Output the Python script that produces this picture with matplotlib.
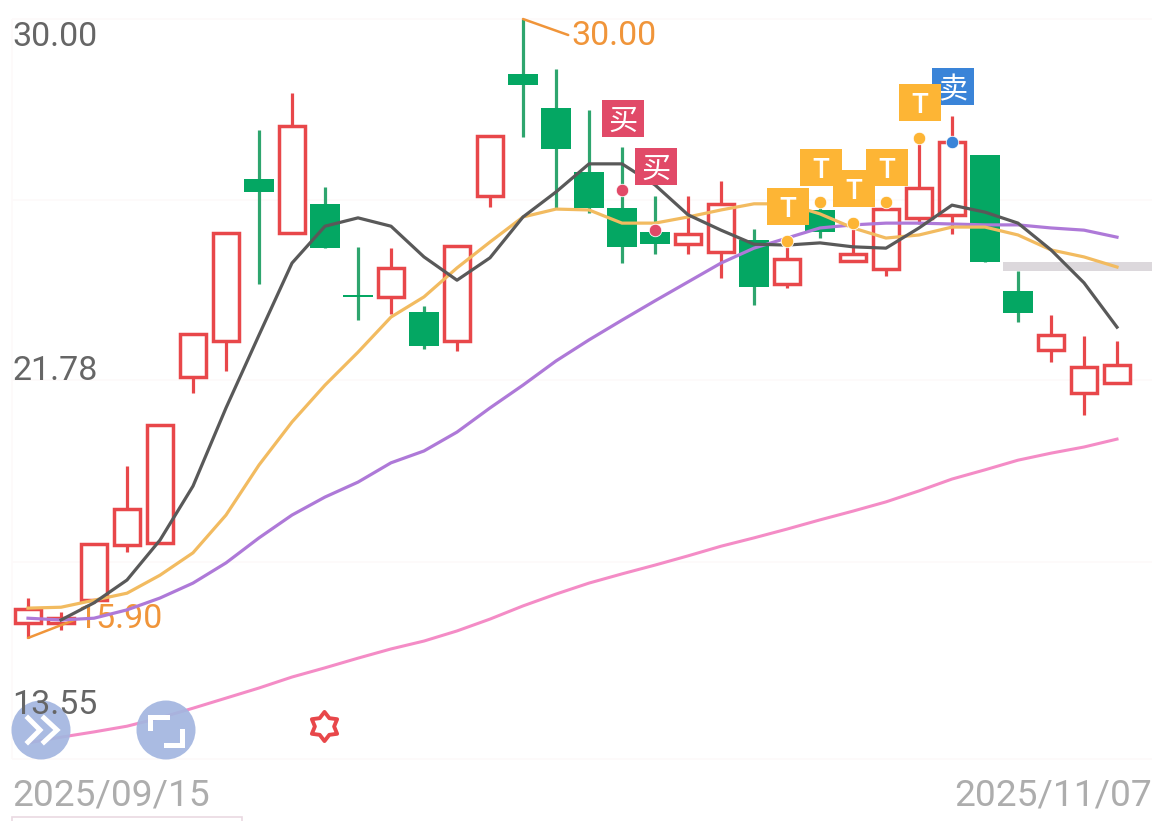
import numpy as np
import matplotlib
matplotlib.use('Agg')
import matplotlib.pyplot as plt
from matplotlib.patches import Rectangle, Circle
from matplotlib.path import Path

# prices
opens = [16.24, 16.24, 16.76, 18.02, 18.06, 21.84, 22.66, 26.36, 25.13, 25.79, 23.71, 23.67,
         23.33, 22.66, 25.97, 28.75, 27.97, 26.51, 25.69, 25.15, 24.87, 24.69, 24.97, 23.96,
         25.65, 24.49, 24.30, 25.47, 25.54, 26.90, 23.80, 22.46, 21.48, 21.71]
closes = [16.56, 16.35, 18.04, 18.84, 20.75, 22.82, 25.13, 26.06, 27.56, 24.78, 23.67, 24.33,
          22.55, 24.83, 27.33, 28.50, 27.04, 25.69, 24.81, 24.87, 25.10, 25.79, 23.89, 24.53,
          25.15, 24.65, 25.67, 26.15, 27.20, 24.46, 23.30, 22.80, 22.07, 22.12]
highs = [16.81, 16.49, 18.04, 19.82, 20.75, 22.82, 25.13, 27.47, 28.31, 26.17, 24.81, 24.78,
         23.46, 24.83, 27.33, 30.00, 28.86, 27.93, 27.08, 25.97, 25.97, 26.31, 25.22, 25.06,
         25.92, 25.38, 25.88, 27.36, 27.79, 26.90, 24.26, 23.26, 22.78, 22.66]
lows = [15.90, 16.08, 16.70, 17.86, 18.06, 21.48, 21.98, 23.96, 25.13, 24.78, 23.14, 23.28,
        22.48, 22.44, 25.72, 27.31, 25.67, 25.58, 24.44, 24.65, 24.65, 24.10, 23.48, 23.87,
        25.01, 24.49, 24.15, 25.33, 25.10, 24.46, 23.10, 22.19, 20.98, 21.69]

ma_black = [16.31, 16.70, 17.22, 18.13, 19.36, 21.14, 22.80, 24.44, 25.28, 25.47, 25.28, 24.58,
            24.05, 24.56, 25.49, 26.06, 26.70, 26.70, 26.22, 25.54, 25.19, 24.87, 24.85, 24.90,
            24.81, 24.78, 25.24, 25.76, 25.60, 25.35, 24.74, 23.99, 22.98]
ma_yellow = [16.58, 16.60, 16.76, 16.92, 17.33, 17.84, 18.70, 19.84, 20.82, 21.66, 22.41, 23.21,
             23.67, 24.33, 24.92, 25.49, 25.67, 25.65, 25.35, 25.35, 25.49, 25.65, 25.79, 25.79,
             25.56, 25.24, 25.01, 25.08, 25.26, 25.26, 25.08, 24.74, 24.58, 24.35]
ma_purple = [16.35, 16.31, 16.35, 16.54, 16.81, 17.15, 17.61, 18.18, 18.70, 19.11, 19.45, 19.89,
             20.16, 20.59, 21.14, 21.66, 22.21, 22.69, 23.14, 23.58, 24.01, 24.44, 24.78, 25.01,
             25.24, 25.31, 25.35, 25.35, 25.33, 25.31, 25.31, 25.24, 25.19, 25.03]
ma_pink = [13.51, 13.64, 13.76, 13.89, 14.08, 14.30, 14.53, 14.76, 15.01, 15.22, 15.44, 15.65,
           15.83, 16.06, 16.33, 16.63, 16.90, 17.15, 17.36, 17.56, 17.77, 17.99, 18.18, 18.38,
           18.59, 18.79, 19.00, 19.25, 19.52, 19.73, 19.95, 20.11, 20.25, 20.43]

# signal: candle index, dot price, label, gap from dot to label box in px
sig_idx = [18, 19, 23, 24, 25, 26, 27, 28]
sig_price = [26.10, 25.19, 24.94, 25.83, 25.35, 25.83, 27.29, 27.20]
sig_label = ['买', '买', 'T', 'T', 'T', 'T', 'T', '卖']
sig_gap = [72, 64, 35, 35, 35, 35, 35, 55]

grid_prices = [30.00, 25.88, 21.78, 17.63, 13.14]
axis_labels = ['30.00', '21.78', '13.55']
date_labels = ['2025/09/15', '2025/11/07']

RED = '#e8474a'
GREEN = '#04a763'
GREEN_WICK = '#2ea56e'
ORANGE = '#f0953a'
sig_color = {'买': '#e14a68', 'T': '#fdb535', '卖': '#3a84d8'}

W, H = 1168, 821
fig = plt.figure(figsize=(W / 100, H / 100), dpi=100)
ax = fig.add_axes([0, 0, 1, 1])
ax.set_xlim(-28 / 33, (W - 28) / 33)
ax.set_ylim(30 - (H - 19) * 0.02278, 30 + 19 * 0.02278)
ax.axis('off')

# overlay in screen pixels for the app chrome
ui = fig.add_axes([0, 0, 1, 1])
ui.set_xlim(0, W)
ui.set_ylim(H, 0)
ui.axis('off')
ui.patch.set_alpha(0)

x0 = (12 - 28) / 33
x1 = (1152 - 28) / 33
ax.hlines(grid_prices, x0, x1, color='#fdf9fa', lw=1.2, zorder=1)
ax.vlines(x0, grid_prices[-1], grid_prices[0], color='#fdf9fa', lw=1.2, zorder=1)

# latest price band
ax.add_patch(Rectangle(((1003 - 28) / 33, 24.26), x1 - (1003 - 28) / 33, 0.20,
                       color='#dcd8dc', lw=0, zorder=2))

idx = np.arange(len(opens))
for i in idx:
    up = closes[i] >= opens[i]
    ax.vlines(i, lows[i], highs[i], color=RED if up else GREEN_WICK, lw=2.3, zorder=3)
    lo, hi = min(opens[i], closes[i]), max(opens[i], closes[i])
    if up:
        ax.add_patch(Rectangle((i - 0.38, lo), 0.76, hi - lo, facecolor='white',
                               edgecolor=RED, lw=2.5, zorder=4))
    else:
        ax.add_patch(Rectangle((i - 0.445, lo), 0.89, hi - lo, facecolor=GREEN,
                               edgecolor='none', zorder=4))

ax.plot(idx, ma_pink, color='#f48cc6', lw=2.2, zorder=5)
ax.plot(idx, ma_purple, color='#ae79d8', lw=2.3, zorder=5)
ax.plot(idx, ma_yellow, color='#f2bb60', lw=2.3, zorder=6)
ax.plot(idx[1:], ma_black, color='#595959', lw=2.3, zorder=7)

# high / low callouts
ax.annotate('30.00', xy=(15, 30.00), xytext=(48, -17), textcoords='offset pixels',
            color=ORANGE, fontsize=24.5, family='Roboto', va='center', ha='left', zorder=8,
            arrowprops=dict(arrowstyle='-', color=ORANGE, lw=1.8, shrinkA=0, shrinkB=0, relpos=(0, 0.5)))
ax.annotate('15.90', xy=(0, 15.90), xytext=(49, 19), textcoords='offset pixels',
            color=ORANGE, fontsize=24.5, family='Roboto', va='center', ha='left', zorder=4.5,
            arrowprops=dict(arrowstyle='-', color=ORANGE, lw=1.8, shrinkA=0, shrinkB=0, relpos=(0, 0.5)))

# signal dots and label boxes
for i, p, lab, gap in zip(sig_idx, sig_price, sig_label, sig_gap):
    c = sig_color[lab]
    ax.plot(i, p, 'o', color=c, ms=9, mec='white', mew=0.6, zorder=9)
    sx, sy = ax.transData.transform((i, p))
    sy = H - sy - gap
    z = 4 if lab == 'T' else 3
    ui.add_patch(Rectangle((sx - 20.5, sy - 18.5), 42, 37, color=c, lw=0, zorder=z))
    if lab == 'T':
        ui.text(sx + 0.5, sy, lab, color='white', fontsize=20, family='Roboto', weight='medium',
                ha='center', va='center_baseline', zorder=z + 0.5)
    else:
        ui.text(sx + 0.5, sy, lab, color='white', fontsize=21, family='Noto Sans CJK SC',
                weight='medium', ha='center', va='center_baseline', zorder=z + 0.5)

# axis labels
for lab, y in zip(axis_labels, [34, 368, 701]):
    ui.text(12, y, lab, color='#666666', fontsize=24.5, family='Roboto', ha='left',
            va='center_baseline', zorder=2.5)
ui.text(12, 791, date_labels[0], color='#adadad', fontsize=26.7, family='Roboto', ha='left',
        va='center_baseline')
ui.text(1152, 791, date_labels[1], color='#adadad', fontsize=26.7, family='Roboto', ha='right',
        va='center_baseline')

# round buttons
for cx in [41, 166]:
    ui.add_patch(Circle((cx, 730), 29.5, color='#a3b6e0', alpha=0.92, lw=0, zorder=2))
for xs in [[28, 40, 28], [44, 57, 44]]:
    ui.plot(xs, [718, 730, 742], color='white', lw=3.6, solid_joinstyle='miter', zorder=3)
ui.plot([150, 150, 167], [728, 717, 717], color='white', lw=3.6, solid_joinstyle='miter', zorder=3)
ui.plot([166, 182, 182], [745, 745, 731], color='white', lw=3.6, solid_joinstyle='miter', zorder=3)

# red star mark
ui.plot(324, 726, marker=Path.unit_regular_star(6, 0.66), ms=21, mfc='white', mec=RED, mew=2.8, zorder=3)

# stub of the panel below
ui.add_patch(Rectangle((12, 817), 230, 8, facecolor='white', edgecolor='#ead9e2', lw=1.2))

ui.set_xlim(0, W)
ui.set_ylim(H, 0)
fig.savefig('out.png', dpi=100)
plt.close(fig)
